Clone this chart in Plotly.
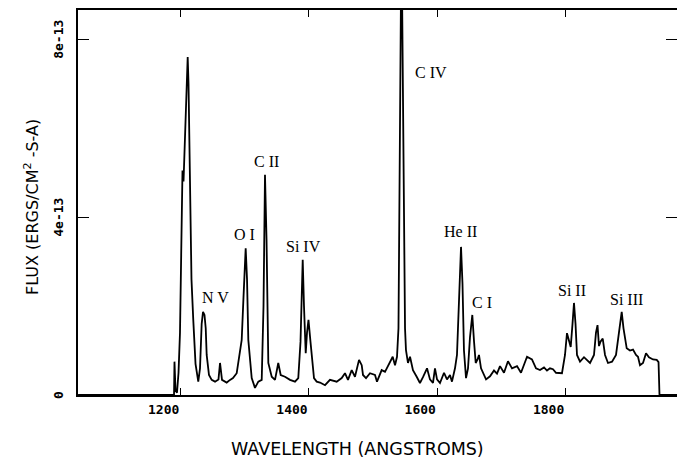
import plotly.graph_objects as go

# Spectrum: wavelength (Angstroms) and flux (units of 1e-13 ergs/cm^2/s/A)
wavelength = [
    1040.0, 1189.6, 1190.3, 1191.9, 1194.2, 1196.6, 1198.9, 1201.2, 1202.8, 1204.4,
    1206.7, 1209.0, 1210.9, 1212.2, 1214.5, 1216.8, 1219.6, 1223.1, 1227.4, 1230.1,
    1232.7, 1234.8, 1237.1, 1239.0, 1240.5, 1244.1, 1248.3, 1253.5, 1258.9, 1261.3,
    1264.4, 1271.7, 1276.9, 1281.5, 1287.3, 1292.4, 1295.1, 1297.9, 1301.3, 1303.4,
    1305.4, 1310.7, 1315.8, 1321.0, 1326.3, 1329.1, 1331.4, 1333.8, 1336.6, 1341.9,
    1347.0, 1352.1, 1355.9, 1362.6, 1370.4, 1378.2, 1383.3, 1386.8, 1390.2, 1392.2,
    1394.9, 1396.9, 1399.2, 1402.3, 1405.5, 1407.8, 1412.0, 1417.2, 1425.0, 1432.7,
    1443.2, 1451.0, 1456.1, 1460.8, 1466.6, 1471.7, 1478.0, 1482.2, 1484.2, 1488.9,
    1495.1, 1502.9, 1506.0, 1513.3, 1518.5, 1523.2, 1530.5, 1534.1, 1537.2, 1539.5,
    1541.9, 1543.5, 1545.0, 1547.3, 1549.7, 1551.2, 1554.3, 1557.5, 1562.1, 1567.9,
    1573.0, 1577.7, 1584.0, 1588.6, 1593.3, 1596.4, 1599.6, 1604.2, 1610.5, 1615.1,
    1619.8, 1622.9, 1627.6, 1630.7, 1633.8, 1637.0, 1639.3, 1641.6, 1644.8, 1647.9,
    1651.0, 1654.6, 1657.3, 1659.9, 1662.7, 1665.0, 1668.2, 1671.3, 1676.0, 1682.2,
    1688.4, 1693.1, 1697.8, 1704.0, 1710.2, 1716.5, 1724.3, 1730.5, 1739.9, 1747.6,
    1753.9, 1760.1, 1766.4, 1771.0, 1775.7, 1780.4, 1785.1, 1794.4, 1799.1, 1802.2,
    1808.0, 1810.8, 1813.1, 1815.5, 1817.8, 1822.5, 1828.7, 1838.1, 1844.3, 1847.4,
    1849.8, 1852.1, 1854.4, 1857.9, 1861.5, 1866.1, 1872.4, 1878.6, 1883.3, 1887.5,
    1890.3, 1895.3, 1900.4, 1905.1, 1909.8, 1912.9, 1916.0, 1920.7, 1925.4, 1930.0,
    1936.3, 1942.1, 1944.9, 1946.4, 1973.7,
]
flux_e13 = [
    0.0, 0.0, 0.75, 0.1, 0.05, 0.5, 1.4, 4.0, 5.05, 4.8,
    5.8, 7.2, 7.6, 7.0, 4.5, 2.6, 1.69, 0.7, 0.3, 0.6,
    1.6, 1.87, 1.8, 1.5, 0.9, 0.45, 0.34, 0.30, 0.35, 0.72,
    0.34, 0.28, 0.34, 0.38, 0.49, 0.94, 1.24, 2.2, 3.3, 2.6,
    1.24, 0.38, 0.16, 0.30, 0.34, 2.0, 4.95, 3.5, 0.72, 0.41,
    0.34, 0.72, 0.45, 0.41, 0.34, 0.30, 0.38, 1.2, 3.04, 2.0,
    0.94, 1.4, 1.69, 1.2, 0.6, 0.38, 0.30, 0.28, 0.22, 0.34,
    0.30, 0.38, 0.49, 0.34, 0.56, 0.41, 0.79, 0.67, 0.45, 0.38,
    0.49, 0.45, 0.30, 0.56, 0.52, 0.64, 0.86, 0.67, 0.86, 1.5,
    7.0, 9.2, 9.2, 5.0, 1.5, 1.01, 0.72, 0.86, 0.56, 0.41,
    0.27, 0.40, 0.6, 0.35, 0.27, 0.6, 0.35, 0.27, 0.5, 0.35,
    0.45, 0.3, 0.6, 0.9, 2.0, 3.33, 2.5, 1.0, 0.38, 0.6,
    1.3, 1.8, 1.2, 0.72, 0.8, 0.9, 0.6, 0.49, 0.35, 0.42,
    0.55, 0.48, 0.65, 0.5, 0.76, 0.6, 0.65, 0.5, 0.86, 0.8,
    0.6, 0.56, 0.62, 0.55, 0.6, 0.58, 0.5, 0.49, 0.9, 1.39,
    1.08, 1.6, 2.07, 1.6, 0.9, 0.75, 0.85, 0.72, 0.9, 1.4,
    1.57, 1.1, 1.2, 1.27, 0.9, 0.72, 0.75, 0.9, 1.4, 1.87,
    1.5, 1.05, 1.0, 1.02, 0.9, 0.86, 0.67, 0.72, 0.94, 0.85,
    0.8, 0.79, 0.74, 0.0, 0.0,
]

x_tick_vals = [1200, 1400, 1600, 1800]
x_tick_text = ["1200", "1400", "1600", "1800"]
y_tick_vals = [0, 4, 8]
y_tick_text = ["0", "4e-13", "8e-13"]

line_labels = ["N V", "O I", "C II", "Si IV", "C IV", "He II", "C I", "Si II", "Si III"]
label_x = [1253.5, 1298.7, 1333.0, 1392.2, 1590.2, 1636.9, 1669.7, 1810.0, 1894.2]
label_y = [2.20, 3.60, 5.24, 3.33, 7.26, 3.67, 2.09, 2.36, 2.14]

X_RANGE = [1039.9, 1973.7]
Y_RANGE = [0, 8.657]

W, H = 677, 459
L, R, T, B = 78, 0, 10, 64
pw, ph = W - L - R, H - T - B

tick_font = dict(family="DejaVu Sans Mono", size=13, color="black", weight="bold")

fig = go.Figure()
fig.add_trace(go.Scatter(
    x=wavelength, y=flux_e13, mode="lines",
    line=dict(color="black", width=1.8),
    showlegend=False, hoverinfo="skip",
))
# invisible trace to activate right-hand axis ticks
fig.add_trace(go.Scatter(x=[None], y=[None], yaxis="y2", showlegend=False, hoverinfo="skip"))

for txt, lx, ly in zip(line_labels, label_x, label_y):
    fig.add_annotation(x=lx, y=ly, xref="x", yref="y", text=txt, showarrow=False,
                       xanchor="center", yanchor="middle",
                       font=dict(family="Liberation Serif", size=16, color="black"))

fig.add_annotation(x=(357 - L) / pw, y=(H - B - 449) / ph, xref="paper", yref="paper",
                   text="WAVELENGTH (ANGSTROMS)", showarrow=False,
                   xanchor="center", yanchor="middle",
                   font=dict(family="DejaVu Sans", size=17.5, color="black"))

fig.add_annotation(x=(31 - L) / pw, y=(H - B - 207) / ph, xref="paper", yref="paper",
                   text="FLUX (ERGS/CM<sup>2</sup> -S-A)", textangle=-90, showarrow=False,
                   xanchor="center", yanchor="middle",
                   font=dict(family="DejaVu Sans", size=16, color="black"))

fig.update_layout(
    width=W, height=H,
    margin=dict(l=L, r=R, t=T, b=B),
    paper_bgcolor="white", plot_bgcolor="white",
    xaxis=dict(
        range=X_RANGE, tickvals=x_tick_vals, ticktext=x_tick_text,
        showline=True, linecolor="black", linewidth=1.5, mirror="ticks",
        ticks="inside", ticklen=7, tickwidth=1.2, tickcolor="black",
        showgrid=False, zeroline=False, tickfont=tick_font,
        ticklabelshift=-17, ticklabelstandoff=2,
    ),
    yaxis=dict(
        range=Y_RANGE, tickvals=y_tick_vals, ticktext=y_tick_text,
        showline=True, linecolor="black", linewidth=1.5,
        ticks="inside", ticklen=11, tickwidth=1.2, tickcolor="black",
        showgrid=False, zeroline=False, tickfont=tick_font, tickangle=-90,
        ticklabelstandoff=8, ticklabelshift=2,
    ),
    yaxis2=dict(
        range=Y_RANGE, tickvals=y_tick_vals, overlaying="y", side="right",
        showline=False, ticks="inside", ticklen=11, tickwidth=1.2, tickcolor="black",
        showticklabels=False, showgrid=False, zeroline=False,
    ),
)

fig.write_html("out.html")
